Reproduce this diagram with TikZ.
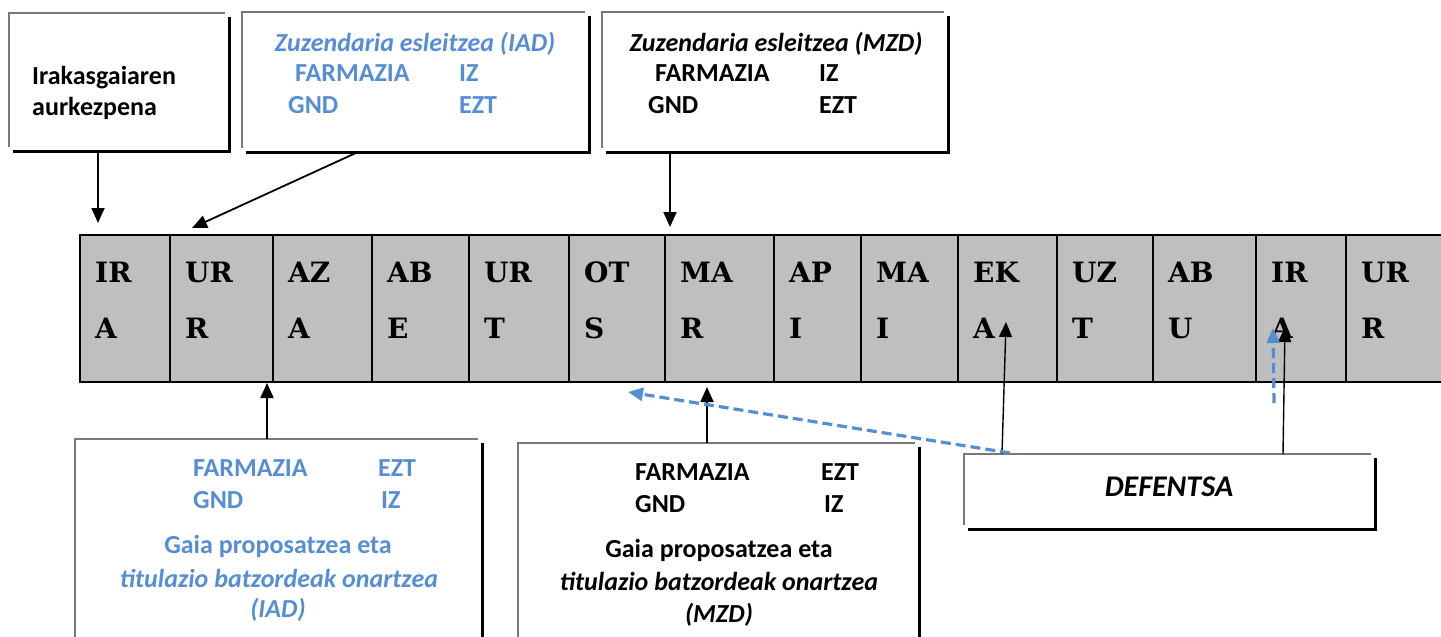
\documentclass[tikz,border=0pt]{standalone}
\usepackage{fontspec}
\setmainfont{Carlito}
\newfontfamily\slabfont{DejaVu Serif}
\usetikzlibrary{arrows.meta}

\definecolor{wordblue}{RGB}{85,142,213}
\definecolor{cellgray}{RGB}{191,191,191}
\definecolor{edgegray}{RGB}{120,120,120}

\tikzset{
  wordbox/.style={inner sep=0pt, anchor=north west},
  edgeline/.style={edgegray, line width=2.6pt},
  shadowline/.style={black, line width=2.6pt},
  txt/.style={inner sep=0pt, anchor=base west, font=\fontsize{26}{31}\selectfont\bfseries},
  ctxt/.style={txt, anchor=base},
  ictxt/.style={ctxt, font=\fontsize{26}{31}\selectfont\bfseries\itshape},
  month/.style={inner sep=0pt, anchor=base west, font=\slabfont\fontsize{28}{28}\selectfont\bfseries},
  arr/.style={-{Triangle[length=15pt,width=13pt]}, line width=1.8pt},
  bluearr/.style={-{Triangle[length=15pt,width=13pt]}, wordblue, line width=3.2pt, dash pattern=on 10pt off 5pt},
}

\newcommand{\wordframe}[1]{%
  \draw[edgeline] (#1.south west) -- (#1.north west) -- (#1.north east);
  \draw[shadowline] ([shift={(4,4)}]#1.south west) -- ([shift={(4,4)}]#1.south east) -- ([shift={(4,4)}]#1.north east);
}

\begin{document}
\begin{tikzpicture}[x=1pt, y=-1pt]
\useasboundingbox (0,0) rectangle (1441,637);
\clip (0,0) rectangle (1441,637);

% months
\draw[fill=cellgray, line width=2.6pt] (80,235) rectangle (1450,382);
\foreach \x/\a/\b [count=\i] in {80/IR/A, 170/UR/R, 273/AZ/A, 372/AB/E, 469/UR/T, 569/OT/S, 665/MA/R,
    774/AP/I, 861/MA/I, 958/EK/A, 1057/UZ/T, 1153/AB/U, 1256/IR/A, 1346/UR/R}{
  \draw[line width=1.8pt] (\x,235) -- (\x,382);
  \node[month] (top\i) at (\x+15,282) {\a};
  \node[month] (bot\i) at (\x+15,338) {\b};
}

% boxes
\node[wordbox, minimum width=216pt, minimum height=134pt] (intro) at (9,13) {};
\node[wordbox, minimum width=343pt, minimum height=136pt] (iadtop) at (242,12) {};
\node[wordbox, minimum width=342pt, minimum height=136pt] (mzdtop) at (602,12) {};
\node[wordbox, minimum width=403pt, minimum height=260pt] (iadbot) at (75,439) {};
\node[wordbox, minimum width=397pt, minimum height=260pt] (mzdbot) at (518,443) {};
\node[wordbox, minimum width=407pt, minimum height=71pt] (defense) at (964,454) {};
\foreach \b in {intro, iadtop, mzdtop, iadbot, mzdbot, defense}{
  \wordframe{\b}
}

% top texts
\node[txt] (intro1) at (32,84) {Irakasgaiaren};
\node[txt] (intro2) at (32,115) {aurkezpena};

\node[ictxt, wordblue] (iadtitle) at (415,51) {Zuzendaria esleitzea (IAD)};
\node[txt, wordblue] (iadf) at (295,81) {FARMAZIA};
\node[txt, wordblue] (iadiz) at (459,81) {IZ};
\node[txt, wordblue] (iadg) at (288,113) {GND};
\node[txt, wordblue] (iadezt) at (459,113) {EZT};

\node[ictxt] (mzdtitle) at (776,51) {Zuzendaria esleitzea (MZD)};
\node[txt] (mzdf) at (655,81) {FARMAZIA};
\node[txt] (mzdiz) at (819,81) {IZ};
\node[txt] (mzdg) at (648,113) {GND};
\node[txt] (mzdezt) at (819,113) {EZT};

% bottom texts
\node[txt, wordblue] (gaif) at (193,476) {FARMAZIA};
\node[txt, wordblue] (gaiezt) at (378,476) {EZT};
\node[txt, wordblue] (gaig) at (193,508) {GND};
\node[txt, wordblue] (gaiiz) at (381,508) {IZ};
\node[ctxt, wordblue] (gai1) at (278,553) {Gaia proposatzea eta};
\node[ictxt, wordblue] (gai2) at (279,587) {titulazio batzordeak onartzea};
\node[ictxt, wordblue] (gai3) at (278,617) {(IAD)};

\node[txt] (magf) at (635,480) {FARMAZIA};
\node[txt] (magezt) at (821,480) {EZT};
\node[txt] (magg) at (635,512) {GND};
\node[txt] (magiz) at (824,512) {IZ};
\node[ctxt] (mag1) at (719,557) {Gaia proposatzea eta};
\node[ictxt] (mag2) at (719,590) {titulazio batzordeak onartzea};
\node[ictxt] (mag3) at (719,622) {(MZD)};

\node[ictxt, font=\fontsize{30}{32}\selectfont\bfseries\itshape] (deftxt) at (1169,496) {DEFENTSA};

% arrows
\coordinate (introtip) at (98,223);
\coordinate (iadfoot) at (358,152);
\coordinate (iadtip) at (192,228);
\coordinate (mzdtip) at (670,227);
\coordinate (gaitip) at (267,383);
\coordinate (magtip) at (707,387);
\coordinate (ekafoot) at (1002,454);
\coordinate (ekatip) at (1006,322);
\coordinate (irafoot) at (1283,454);
\coordinate (iratip) at (1285,327);
\coordinate (otsfoot) at (1010,453);
\coordinate (otstip) at (628,392);
\coordinate (irabfoot) at (1274,403);
\coordinate (irabtip) at (1273,328);

\draw[arr] ([yshift=-4pt]intro.south -| introtip) -- (introtip);
\draw[arr] (iadfoot) -- (iadtip);
\draw[arr] ([yshift=-4pt]mzdtop.south -| mzdtip) -- (mzdtip);
\draw[arr] (iadbot.north -| gaitip) -- (gaitip);
\draw[arr] (mzdbot.north -| magtip) -- (magtip);
\draw[arr, line width=1.4pt] (ekafoot) -- (ekatip);
\draw[arr, line width=1.4pt] (irafoot) -- (iratip);
\draw[bluearr] (otsfoot) -- (otstip);
\draw[bluearr] (irabfoot) -- (irabtip);
\end{tikzpicture}
\end{document}
